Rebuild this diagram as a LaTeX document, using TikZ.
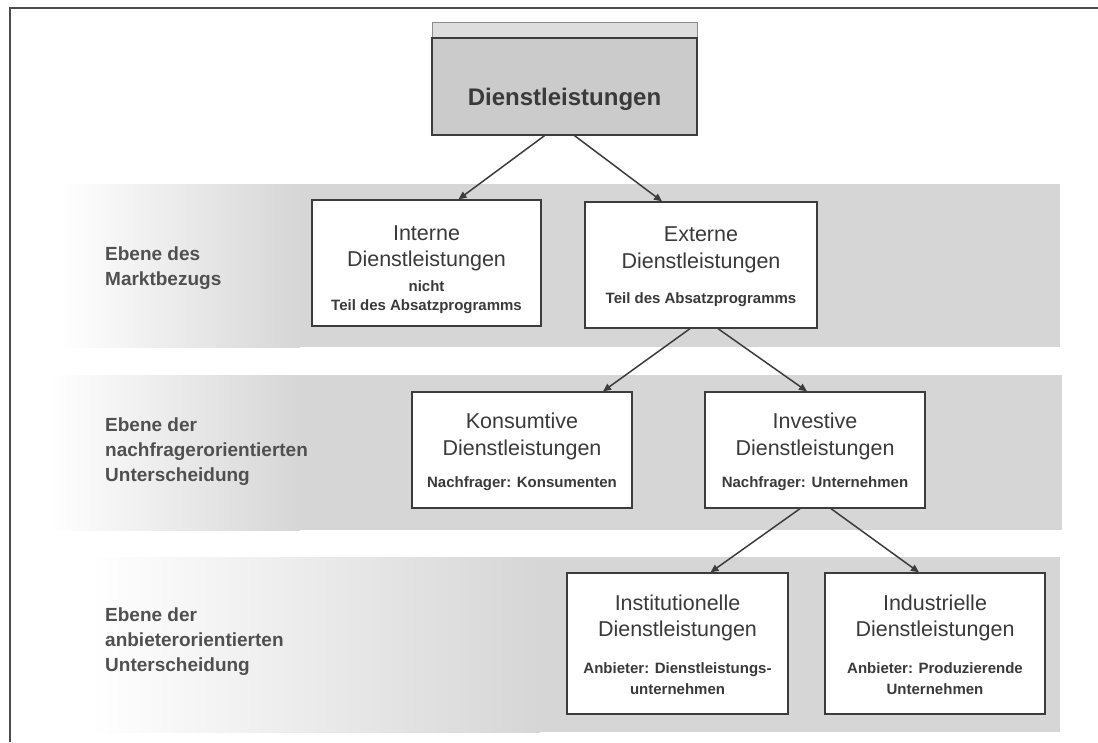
\documentclass[tikz,border=0pt]{standalone}
\usepackage{fontspec}
\setmainfont{Liberation Sans}
\usetikzlibrary{arrows.meta,calc}
\definecolor{bandgray}{HTML}{D6D6D6}
\definecolor{topgray}{HTML}{CBCBCB}
\definecolor{stripgray}{HTML}{DDDDDD}
\definecolor{txt}{HTML}{3A3A3A}
\definecolor{lbl}{HTML}{505050}
\definecolor{edge}{HTML}{3C3C3C}
\begin{document}
\begin{tikzpicture}[x=1pt,y=-1pt,
  box/.style={draw=edge, line width=1.3pt, fill=white, inner sep=0pt},
  ttl/.style={font=\fontsize{21.5}{25}\selectfont, text=txt, anchor=base, inner sep=0pt},
  big/.style={font=\bfseries\fontsize{24}{28}\selectfont, text=txt, anchor=base, inner sep=0pt},
  sub/.style={font=\bfseries\fontsize{15}{18}\selectfont, text=txt, anchor=base, inner sep=0pt},
  lvl/.style={font=\bfseries\fontsize{19}{25}\selectfont, text=lbl, align=left, anchor=west, inner sep=0pt},
  arr/.style={draw=edge, line width=1.5pt, -{Triangle[length=8pt,width=7pt]}}]

\useasboundingbox (0,0) rectangle (1098,742);
\fill[white] (0,0) rectangle (1098,742);
% frame
\draw[line width=2pt, draw=black!70] (10,742) -- (10,8) -- (1098,8);

% bands
\shade[left color=white, right color=bandgray] (60,184) rectangle (300,347);
\fill[bandgray] (299,184) rectangle (1060,347);
\shade[left color=white, right color=bandgray] (50,375) rectangle (300,530);
\fill[bandgray] (299,375) rectangle (1062,530);
\shade[left color=white, right color=bandgray] (90,557) rectangle (540,732);
\fill[bandgray] (539,557) rectangle (1060,732);

% level labels
\node[lvl] (l1) at (105,268) {Ebene des\\Marktbezugs};
\node[lvl] (l2) at (105,452) {Ebene der\\nachfragerorientierten\\Unterscheidung};
\node[lvl] (l3) at (105,642) {Ebene der\\anbieterorientierten\\Unterscheidung};

% top box
\node[box, draw=black!45, line width=1pt, fill=stripgray, minimum width=265, minimum height=16] (strip) at (564.5,30) {};
\node[box, fill=topgray, minimum width=265, minimum height=97] (top) at (564.5,86.5) {};
\node[big] (topT) at (564.5,105) {Dienstleistungen};

% level 1
\node[box, minimum width=229, minimum height=126] (int) at (426.5,263) {};
\node[ttl] (intA) at (426.5,240) {Interne};
\node[ttl] (intB) at (426.5,266) {Dienstleistungen};
\node[sub] (intC) at (426.5,291) {nicht};
\node[sub] (intD) at (426.5,310) {Teil des Absatzprogramms};

\node[box, minimum width=232, minimum height=126] (ext) at (701,265) {};
\node[ttl] (extA) at (701,241) {Externe};
\node[ttl] (extB) at (701,268) {Dienstleistungen};
\node[sub] (extC) at (701,303) {Teil des Absatzprogramms};

% level 2
\node[box, minimum width=220, minimum height=116] (kon) at (522,450) {};
\node[ttl] (konA) at (522,428) {Konsumtive};
\node[ttl] (konB) at (522,455) {Dienstleistungen};
\node[sub] (konC) at (522,487) {Nachfrager: Konsumenten};

\node[box, minimum width=220, minimum height=116] (inv) at (815,450) {};
\node[ttl] (invA) at (815,428) {Investive};
\node[ttl] (invB) at (815,455) {Dienstleistungen};
\node[sub] (invC) at (815,487) {Nachfrager: Unternehmen};

% level 3
\node[box, minimum width=221, minimum height=141] (ins) at (677.5,643.5) {};
\node[ttl] (insA) at (677.5,610) {Institutionelle};
\node[ttl] (insB) at (677.5,636) {Dienstleistungen};
\node[sub] (insC) at (677.5,673) {Anbieter: Dienstleistungs-};
\node[sub] (insD) at (677.5,694) {unternehmen};

\node[box, minimum width=220, minimum height=141] (ind) at (935,643.5) {};
\node[ttl] (indA) at (935,610) {Industrielle};
\node[ttl] (indB) at (935,636) {Dienstleistungen};
\node[sub] (indC) at (935,673) {Anbieter: Produzierende};
\node[sub] (indD) at (935,694) {Unternehmen};

% arrows
\draw[arr] ($(top.south)+(-20,0)$) -- ($(int.north)+(32,0)$);
\draw[arr] ($(top.south)+(10,0)$) -- ($(ext.north)+(-39,0)$);
\draw[arr] ($(ext.south)+(-11,0)$) -- ($(kon.north)+(81,0)$);
\draw[arr] ($(ext.south)+(17,0)$) -- ($(inv.north)+(-8,0)$);
\draw[arr] ($(inv.south)+(-15,0)$) -- ($(ins.north)+(33,0)$);
\draw[arr] ($(inv.south)+(16,0)$) -- ($(ind.north)+(-16,0)$);
\end{tikzpicture}
\end{document}
